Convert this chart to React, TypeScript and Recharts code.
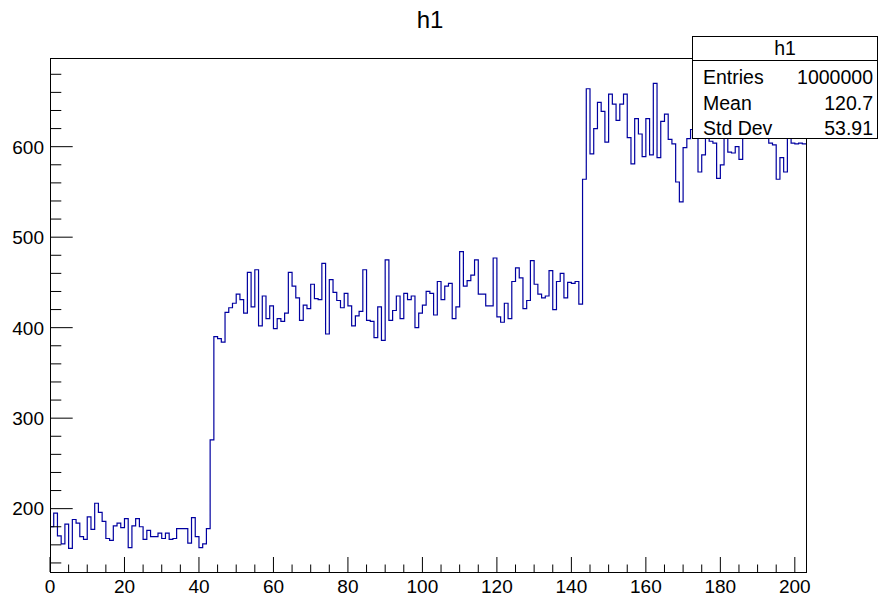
import React from 'react';
import { LineChart, Line, XAxis, YAxis } from 'recharts';

// bin contents, one bin per unit on x (0..203)
const countsA = [
  180, 195, 170, 161, 183, 156, 188, 184, 169, 166,
  191, 177, 206, 196, 186, 167, 165, 181, 184, 179,
  189, 157, 181, 189, 180, 166, 176, 169, 169, 173,
  167, 173, 166, 167, 178, 178, 178, 162, 190, 169,
  157, 161, 178, 276, 390, 388, 384, 417, 422, 427,
];
const countsB = [
  437, 431, 416, 461, 423, 464, 402, 435, 410, 424,
  399, 410, 407, 416, 461, 446, 433, 408, 425, 421,
  448, 432, 431, 471, 393, 453, 439, 430, 422, 438,
  424, 402, 413, 418, 464, 408, 407, 389, 423, 386,
  475, 408, 419, 435, 410, 438, 431, 435, 400, 416,
];
const countsC = [
  425, 440, 438, 414, 451, 431, 446, 449, 410, 423,
  484, 446, 452, 458, 475, 437, 437, 424, 424, 477,
  412, 406, 427, 410, 451, 466, 455, 421, 430, 474,
  448, 437, 433, 435, 463, 420, 451, 460, 433, 450,
  449, 451, 426, 564, 664, 592, 620, 649, 639, 605,
];
const countsD = [
  658, 647, 629, 647, 658, 610, 581, 631, 614, 589,
  631, 591, 670, 588, 628, 636, 608, 603, 561, 539,
  599, 609, 619, 625, 572, 591, 615, 606, 604, 565,
  580, 615, 594, 593, 600, 586, 625, 618, 630, 612,
  622, 635, 615, 604, 602, 564, 588, 572, 612, 604,
  603, 604, 603,
];

const xLabels = [0, 20, 40, 60, 80, 100, 120, 140, 160, 180, 200];
const yLabels = [200, 300, 400, 500, 600];

const statsTitle = 'h1';
const statsRows = [
  ['Entries', '1000000'],
  ['Mean', '120.7'],
  ['Std Dev', '53.91'],
];

const counts = [...countsA, ...countsB, ...countsC, ...countsD];
const data = counts.map((c, i) => ({ x: i, count: c }));
data.push({ x: counts.length, count: counts[counts.length - 1] });

const xMinor: number[] = [];
for (let v = 0; v <= 200; v += 5) xMinor.push(v);
const yMinor: number[] = [];
for (let v = 140; v <= 680; v += 20) yMinor.push(v);

const font = '"Liberation Sans", Arial, Helvetica, sans-serif';

const XTick = (props: any) => {
  const { x, y, payload } = props;
  const major = xLabels.includes(payload.value);
  return (
    <g>
      <line x1={x} x2={x} y1={y} y2={y - (major ? 15 : 7.5)} stroke="#000" strokeWidth={1} />
      {major && (
        <text x={x} y={y + 21} textAnchor="middle" fontSize={19} fontFamily={font} fill="#000">
          {payload.value}
        </text>
      )}
    </g>
  );
};

const YTick = (props: any) => {
  const { x, y, payload } = props;
  const major = yLabels.includes(payload.value);
  return (
    <g>
      <line x1={x} x2={x + (major ? 22.7 : 11.3)} y1={y} y2={y} stroke="#000" strokeWidth={1} />
      {major && (
        <text x={x - 6} y={y} dy="0.36em" textAnchor="end" fontSize={19} fontFamily={font} fill="#000">
          {payload.value}
        </text>
      )}
    </g>
  );
};

export default function App() {
  return (
    <div style={{ position: 'absolute', left: 0, top: 0, width: 879, height: 599, background: '#fff', fontFamily: font }}>
      <div style={{ position: 'absolute', left: 0, top: 6, width: 860, textAlign: 'center', fontSize: 24, lineHeight: '28px', color: '#000' }}>
        h1
      </div>
      <LineChart width={879} height={599} data={data} margin={{ top: 58, right: 73, bottom: 0, left: 0 }}>
        <XAxis
          dataKey="x"
          type="number"
          domain={[0, 203]}
          ticks={xMinor}
          interval={0}
          allowDataOverflow
          axisLine={false}
          tickLine={false}
          tickSize={0}
          tickMargin={0}
          height={27}
          tick={(p: any) => <XTick {...p} />}
        />
        <YAxis
          type="number"
          domain={[130, 698]}
          ticks={yMinor}
          interval={0}
          allowDataOverflow
          axisLine={false}
          tickLine={false}
          tickSize={0}
          tickMargin={0}
          width={50}
          tick={(p: any) => <YTick {...p} />}
        />
        <Line
          type="stepAfter"
          dataKey="count"
          stroke="#0000a0"
          strokeWidth={1.2}
          dot={false}
          isAnimationActive={false}
        />
      </LineChart>
      <div
        style={{
          position: 'absolute',
          left: 50,
          top: 58,
          width: 757,
          height: 515,
          border: '1px solid #000',
          boxSizing: 'border-box',
          pointerEvents: 'none',
        }}
      />
      <div
        style={{
          position: 'absolute',
          left: 692,
          top: 36,
          width: 186,
          height: 103,
          border: '1px solid #000',
          boxSizing: 'border-box',
          background: '#fff',
          fontSize: 19.5,
          color: '#000',
        }}
      >
        <div style={{ position: 'absolute', left: 0, top: 0, width: 184, height: 23, lineHeight: '23px', textAlign: 'center', borderBottom: '1px solid #000' }}>
          {statsTitle}
        </div>
        {statsRows.map(([k, v], i) => (
          <div
            key={k}
            style={{ position: 'absolute', left: 10, top: 29 + i * 25.5, width: 170, height: 22, lineHeight: '22px' }}
          >
            <span style={{ position: 'absolute', left: 0, top: 0 }}>{k}</span>
            <span style={{ position: 'absolute', right: 0, top: 0 }}>{v}</span>
          </div>
        ))}
      </div>
    </div>
  );
}
